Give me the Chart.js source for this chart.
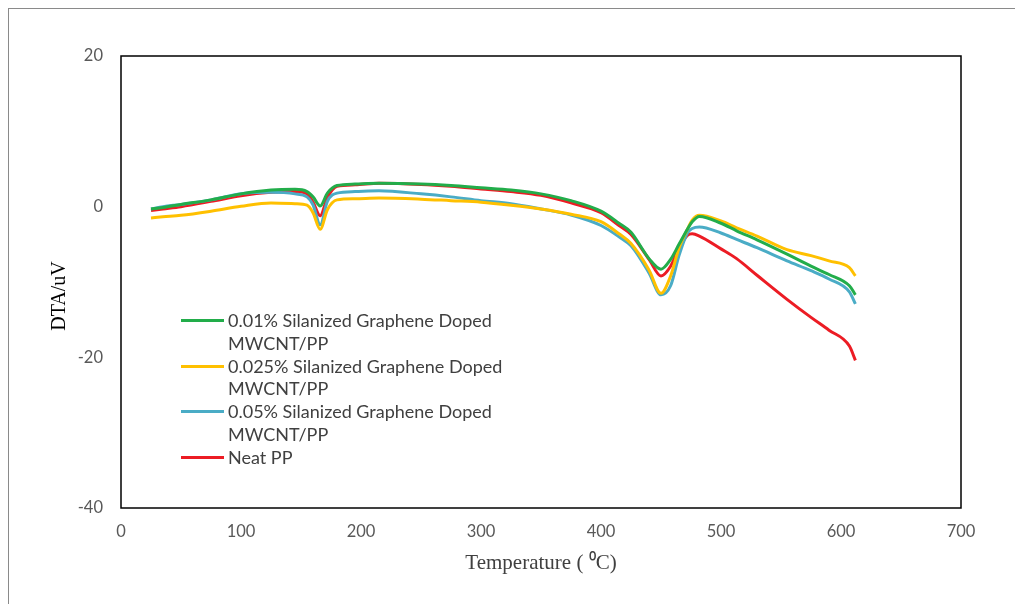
<!DOCTYPE html>
<html>
<head>
<meta charset="utf-8">
<script src="https://cdn.jsdelivr.net/npm/chart.js@4.4.1/dist/chart.umd.min.js"></script>
<style>
  body { margin: 0; background: #fff; }
  #wrap { position: relative; width: 1015px; height: 604px; overflow: hidden; }
  #frame { position: absolute; left: 8px; top: 8px; width: 1100px; height: 700px;
           border-left: 1px solid #8a8a8a; border-top: 1px solid #8a8a8a; }
  #legend { position: absolute; left: 181px; top: 309px; font-family: Lato, "Open Sans", sans-serif;
            font-size: 18px; color: #404040; line-height: 22.8px; }
  .item { display: flex; align-items: flex-start; }
  .swatch { width: 43px; height: 3px; margin-top: 10px; margin-right: 4px; flex: none; }
</style>
</head>
<body>
<div id="wrap">
  <div id="frame"></div>
  <canvas id="chart" width="1015" height="604"></canvas>
  <div id="legend"></div>
</div>
<script>
// Temperature (°C) sample points
var temps = [25, 35, 50, 75, 100, 125, 145, 155, 160, 166, 172, 180, 195, 215, 250, 275, 300, 325, 350, 375, 400, 415, 425, 440, 450, 458, 465, 472, 476, 482, 500, 513, 530, 555, 575, 590, 607, 612];

var green = [-0.3, -0.1, 0.3, 0.9, 1.7, 2.2, 2.3, 2.0, 1.3, 0.1, 1.8, 2.8, 3.0, 3.1, 3.0, 2.8, 2.5, 2.2, 1.7, 0.8, -0.6, -2.2, -3.4, -6.9, -8.3, -7.0, -5.0, -3.0, -2.0, -1.3, -2.2, -3.2, -4.4, -6.3, -7.9, -9.0, -10.5, -11.7];
var yellow = [-1.5, -1.35, -1.15, -0.6, 0.05, 0.5, 0.4, 0.2, -0.8, -3.0, -0.4, 0.9, 1.05, 1.15, 1.0, 0.8, 0.6, 0.2, -0.3, -1.0, -2.0, -3.6, -4.9, -8.4, -11.5, -9.2, -5.5, -3.0, -1.8, -1.15, -1.9, -2.8, -3.9, -5.7, -6.5, -7.2, -8.1, -9.2];
var blue = [-0.3, 0.0, 0.3, 0.9, 1.7, 1.9, 1.7, 1.3, 0.25, -2.4, 0.7, 1.8, 2.0, 2.1, 1.7, 1.3, 0.8, 0.4, -0.3, -1.1, -2.5, -4.0, -5.2, -8.8, -11.7, -10.5, -6.5, -3.5, -2.9, -2.7, -3.5, -4.35, -5.45, -7.2, -8.5, -9.6, -11.3, -12.9];
var red = [-0.5, -0.3, 0.0, 0.7, 1.45, 1.9, 2.0, 1.7, 0.6, -1.2, 1.2, 2.7, 2.9, 3.1, 2.95, 2.7, 2.35, 2.0, 1.5, 0.5, -0.8, -2.5, -3.7, -7.0, -9.2, -7.9, -5.5, -3.8, -3.6, -3.9, -5.6, -6.9, -9.1, -12.3, -14.7, -16.4, -18.5, -20.4];

var seriesNames = [
    ['0.01% Silanized Graphene Doped', 'MWCNT/PP'],
    ['0.025% Silanized Graphene Doped', 'MWCNT/PP'],
    ['0.05% Silanized Graphene Doped', 'MWCNT/PP'],
    ['Neat PP']
];
var seriesColors = ['#22ad4a', '#ffc000', '#4aacc6', '#ec1c24'];
var seriesValues = [green, yellow, blue, red];

var xTicks = [0, 100, 200, 300, 400, 500, 600, 700];
var yTicks = [-40, -20, 0, 20];
var yTitle = 'DTA/uV';

var datasets = seriesValues.map(function (vals, i) {
    return {
        label: seriesNames[i].join(' '),
        data: temps.map(function (t, j) { return { x: t, y: vals[j] }; }),
        borderColor: seriesColors[i],
        backgroundColor: seriesColors[i],
        borderWidth: 3,
        pointRadius: 0,
        fill: false,
        cubicInterpolationMode: 'monotone'
    };
});

var titleFamily = '"Liberation Serif", "Times New Roman", serif';

// black box round the plot area, and the y axis title (sits a bit below centre in the original)
var boxPlugin = {
    id: 'box',
    afterDraw: function (chart) {
        var a = chart.chartArea, c = chart.ctx;
        c.save();
        c.strokeStyle = '#000';
        c.lineWidth = 1.5;
        c.strokeRect(a.left, a.top, a.right - a.left, a.bottom - a.top);
        c.translate(60, 296);
        c.rotate(-Math.PI / 2);
        c.fillStyle = '#000';
        c.font = '20px ' + titleFamily;
        c.textAlign = 'center';
        c.textBaseline = 'middle';
        c.fillText(yTitle, 0, 0);
        c.restore();
    }
};

var tickFont = { family: 'Lato, "Open Sans", sans-serif', size: 16.5 };

new Chart(document.getElementById('chart'), {
    type: 'line',
    data: { datasets: datasets },
    options: {
        responsive: false,
        animation: false,
        layout: { padding: { left: 48, top: 56, right: 54, bottom: 24 } },
        plugins: { legend: { display: false }, tooltip: { enabled: false } },
        scales: {
            x: {
                type: 'linear', min: 0, max: 700,
                grid: { display: false }, border: { display: false },
                afterBuildTicks: function (s) { s.ticks = xTicks.map(function (v) { return { value: v }; }); },
                afterFit: function (s) { s.height = 72; },
                ticks: { font: tickFont, color: '#595959', padding: 6, maxRotation: 0 },
                title: { display: true, text: 'Temperature ( \u2070C)', font: { family: titleFamily, size: 21 }, color: '#404040' }
            },
            y: {
                min: -40, max: 20,
                grid: { display: false }, border: { display: false },
                afterBuildTicks: function (s) { s.ticks = yTicks.map(function (v) { return { value: v }; }); },
                afterFit: function (s) { s.width = 73; },
                ticks: { font: tickFont, color: '#595959', padding: 10 }
            }
        }
    },
    plugins: [boxPlugin]
});

// legend, built from the series names and colours
var legend = document.getElementById('legend');
seriesNames.forEach(function (lines, i) {
    var item = document.createElement('div');
    item.className = 'item';
    var sw = document.createElement('div');
    sw.className = 'swatch';
    sw.style.backgroundColor = seriesColors[i];
    var txt = document.createElement('div');
    txt.innerHTML = lines.join('<br>');
    item.appendChild(sw);
    item.appendChild(txt);
    legend.appendChild(item);
});
</script>
</body>
</html>
